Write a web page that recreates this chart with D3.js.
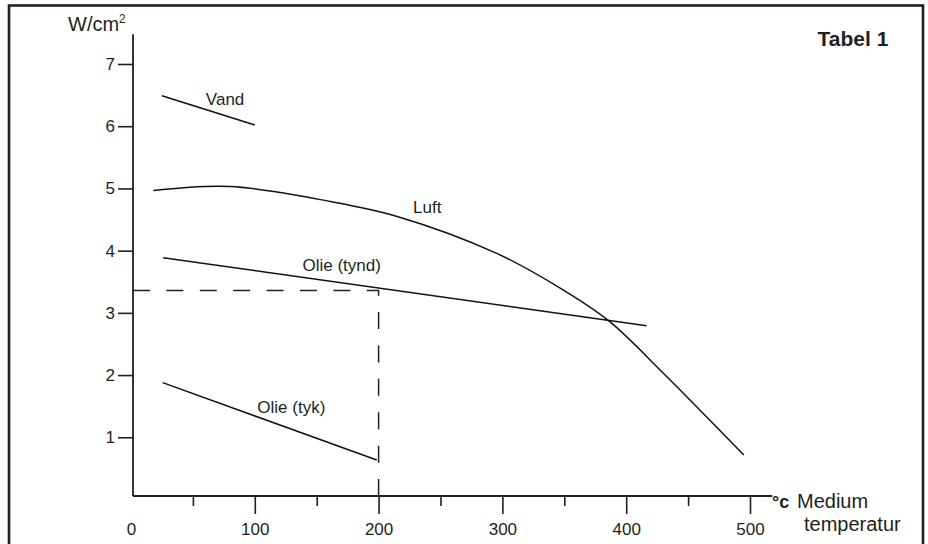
<!DOCTYPE html>
<html>
<head>
<meta charset="utf-8">
<script src="https://cdn.jsdelivr.net/npm/d3@7"></script>
<style>
  body { margin: 0; background: #fff; }
  text { font-family: "Liberation Sans", Arial, sans-serif; fill: #231f20; }
</style>
</head>
<body>
<div id="chart"></div>
<script>
// temperatur (°C) / belastning (W/cm2) aflæst fra tabellen
const vandX = [25, 100];
const vandY = [6.49, 6.02];
const luftX = [18, 80, 161, 215, 295, 349, 386, 430, 495];
const luftY = [4.965, 5.03, 4.79, 4.55, 3.96, 3.37, 2.87, 2.03, 0.715];
const tyndX = [26, 416.5];
const tyndY = [3.887, 2.794];
const tykX = [25.6, 198.5];
const tykY = [1.878, 0.635];
const markX = 200;
const markY = 3.36;

const yTicks = [1, 2, 3, 4, 5, 6, 7];
const xMajor = [0, 100, 200, 300, 400, 500];
const xMinor = [50, 150, 250, 350, 450];
const labels = [
  { text: "Vand", x: 76, y: 6.44 },
  { text: "Luft", x: 239.3, y: 4.71 },
  { text: "Olie (tynd)", x: 170.2, y: 3.77 },
  { text: "Olie (tyk)", x: 129.5, y: 1.495 }
];

const width = 928, height = 544;
const ink = "#231f20";

const x = d3.scaleLinear().domain([0, 500]).range([131, 750]);
const y = d3.scaleLinear().domain([0, 7]).range([499.5, 64]);
const axisX = 133, axisY = 496;

const svg = d3.select("#chart").append("svg")
  .attr("width", width)
  .attr("height", height);

// ramme
svg.append("rect")
  .attr("x", 9).attr("y", 5.5)
  .attr("width", 914).attr("height", 560)
  .attr("fill", "none")
  .attr("stroke", ink)
  .attr("stroke-width", 2.6);

// y-akse
const gy = svg.append("g")
  .attr("transform", `translate(${axisX},0)`)
  .call(d3.axisLeft(y).tickValues(yTicks).tickFormat(d3.format("d")).tickSize(15).tickPadding(3));
gy.select(".domain").remove();
gy.selectAll("line").attr("stroke", ink).attr("stroke-width", 1.6);
gy.selectAll("text").attr("font-size", 17).style("fill", ink);

// x-akse, store og små streger
const gx = svg.append("g")
  .attr("transform", `translate(0,${axisY})`)
  .call(d3.axisBottom(x).tickValues(xMajor).tickSize(18).tickPadding(9));
gx.select(".domain").remove();
gx.selectAll("line").attr("stroke", ink).attr("stroke-width", 1.6);
gx.selectAll(".tick").filter(d => d === 0).select("line").remove();
gx.selectAll("text").attr("font-size", 17).style("fill", ink);

const gm = svg.append("g")
  .attr("transform", `translate(0,${axisY})`)
  .call(d3.axisBottom(x).tickValues(xMinor).tickSize(10).tickFormat(""));
gm.select(".domain").remove();
gm.selectAll("line").attr("stroke", ink).attr("stroke-width", 1.6);

// aksestreger
svg.append("line")
  .attr("x1", axisX).attr("x2", axisX)
  .attr("y1", y(7.48)).attr("y2", axisY)
  .attr("stroke", ink).attr("stroke-width", 1.8);
svg.append("line")
  .attr("x1", axisX).attr("x2", x(518))
  .attr("y1", axisY).attr("y2", axisY)
  .attr("stroke", ink).attr("stroke-width", 1.8);

// aflæsningslinje
svg.append("path")
  .attr("d", `M${axisX},${y(markY)}H${x(markX)}V${axisY}`)
  .attr("fill", "none")
  .attr("stroke", ink)
  .attr("stroke-width", 1.5)
  .attr("stroke-dasharray", "17,16.4");

// kurver
const line = d3.line().x(d => x(d[0])).y(d => y(d[1]));
const zipXY = (xs, ys) => xs.map((v, i) => [v, ys[i]]);

const series = [
  { pts: zipXY(vandX, vandY), curve: d3.curveLinear },
  { pts: zipXY(luftX, luftY), curve: d3.curveCatmullRom.alpha(0.5) },
  { pts: zipXY(tyndX, tyndY), curve: d3.curveLinear },
  { pts: zipXY(tykX, tykY), curve: d3.curveLinear }
];

svg.selectAll("path.serie")
  .data(series)
  .enter()
  .append("path")
  .attr("class", "serie")
  .attr("d", d => line.curve(d.curve)(d.pts))
  .attr("fill", "none")
  .attr("stroke", "#111")
  .attr("stroke-width", 1.5);

svg.selectAll("text.lbl")
  .data(labels)
  .enter()
  .append("text")
  .attr("class", "lbl")
  .attr("x", d => x(d.x))
  .attr("y", d => y(d.y))
  .attr("dy", "0.36em")
  .attr("text-anchor", "middle")
  .attr("font-size", 17)
  .text(d => d.text);

// tekster
const unit = svg.append("text")
  .attr("x", 68).attr("y", 31)
  .attr("font-size", 20)
  .text("W/cm");
unit.append("tspan")
  .attr("font-size", 12)
  .attr("dy", -8)
  .text("2");

svg.append("text")
  .attr("x", 853).attr("y", 45.5)
  .attr("text-anchor", "middle")
  .attr("font-size", 21)
  .attr("font-weight", "bold")
  .text("Tabel 1");

svg.append("text")
  .attr("x", 772).attr("y", 507.5)
  .attr("font-size", 18)
  .attr("font-weight", "bold")
  .text("°c");

svg.append("text")
  .attr("x", 797).attr("y", 507.5)
  .attr("font-size", 20)
  .text("Medium");

svg.append("text")
  .attr("x", 804).attr("y", 530.5)
  .attr("font-size", 20)
  .text("temperatur");
</script>
</body>
</html>
